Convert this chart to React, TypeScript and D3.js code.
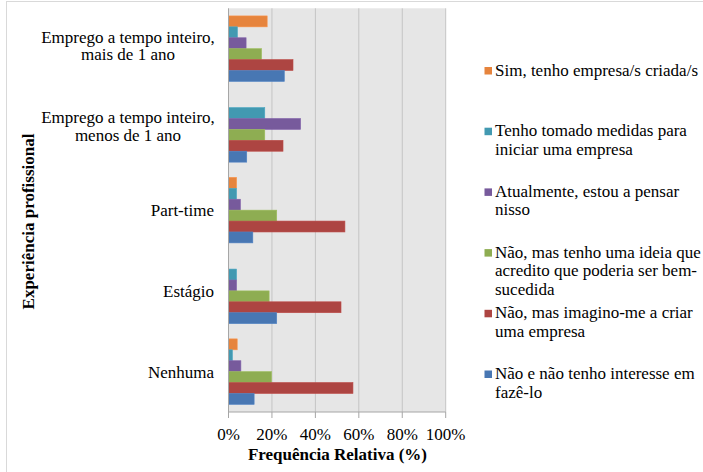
import React from "react";
import * as d3 from "d3";

const categories = [
  "Emprego a tempo inteiro, mais de 1 ano",
  "Emprego a tempo inteiro, menos de 1 ano",
  "Part-time",
  "Estágio",
  "Nenhuma",
];
const categoryLines = [
  ["Emprego a tempo inteiro,", "mais de 1 ano"],
  ["Emprego a tempo inteiro,", "menos de 1 ano"],
  ["Part-time"],
  ["Estágio"],
  ["Nenhuma"],
];

const seriesNames = [
  "Sim, tenho empresa/s criada/s",
  "Tenho tomado medidas para iniciar uma empresa",
  "Atualmente, estou a pensar nisso",
  "Não, mas tenho uma ideia que acredito que poderia ser bem-sucedida",
  "Não, mas imagino-me a criar uma empresa",
  "Não e não tenho interesse em fazê-lo",
];
const legendLines = [
  ["Sim, tenho empresa/s criada/s"],
  ["Tenho tomado medidas para", "iniciar uma empresa"],
  ["Atualmente, estou a pensar", "nisso"],
  ["Não, mas tenho uma ideia que", "acredito que poderia ser bem-", "sucedida"],
  ["Não, mas imagino-me a criar", "uma empresa"],
  ["Não e não tenho interesse em", "fazê-lo"],
];
const seriesColors = ["#E6843D", "#4299B1", "#775A9C", "#8EAD52", "#AD4542", "#4877B3"];

// values per series, in category order (percent)
const simValues = [17.8, 0, 3.7, 0, 4.0];
const medidasValues = [4.1, 16.7, 3.7, 3.7, 1.8];
const pensarValues = [8.1, 33.2, 5.5, 3.7, 5.7];
const ideiaValues = [15.2, 16.7, 22.2, 18.7, 19.8];
const imaginoValues = [29.7, 25.1, 53.6, 51.8, 57.3];
const naoValues = [25.7, 8.4, 11.2, 22.2, 11.8];
const seriesValues = [simValues, medidasValues, pensarValues, ideiaValues, imaginoValues, naoValues];

const xTicks = [0, 20, 40, 60, 80, 100];
const xTickLabels = ["0%", "20%", "40%", "60%", "80%", "100%"];

const W = 703;
const H = 472;
const FONT = "Tinos";

function T(props: any) {
  const { children, bold, ...rest } = props;
  return (
    <text
      style={{ fontFamily: FONT, fontSize: 17, fontWeight: bold ? 700 : 400 }}
      fill="#000"
      {...rest}
    >
      {children}
    </text>
  );
}

export default function App() {
  const plotLeft = 228.5;
  const plotRight = 445.7;
  const plotTop = 8.3;
  const plotBottom = 412;

  const x = d3.scaleLinear().domain([0, 100]).range([plotLeft, plotRight]);
  const y = d3.scaleBand().domain(categories).range([plotTop, plotBottom]).padding(0);
  const yInner = d3
    .scaleBand()
    .domain(seriesNames)
    .range([0, y.bandwidth()])
    .paddingInner(0)
    .paddingOuter(0.7);

  const legendY = d3.scaleLinear().domain([0, 5]).range([75.5, 379]);

  return (
    <svg
      width={W}
      height={H}
      style={{ position: "absolute", left: 0, top: 0, background: "#fff", fontFamily: FONT }}
    >
      <rect x={6.5} y={1.5} width={720} height={500} fill="#fff" stroke="#D9D9D9" strokeWidth={1} />
      <rect
        x={plotLeft}
        y={plotTop}
        width={plotRight - plotLeft}
        height={plotBottom - plotTop}
        fill="#E6E6E6"
      />
      {xTicks.slice(1).map((t) => (
        <line
          key={"g" + t}
          x1={x(t)}
          x2={x(t)}
          y1={plotTop}
          y2={plotBottom}
          stroke="#C4C4C4"
          strokeWidth={1}
        />
      ))}
      {seriesNames.map((s, si) =>
        categories.map((c, ci) => {
          const v = seriesValues[si][ci];
          if (!v) return null;
          return (
            <rect
              key={s + c}
              x={x(0)}
              y={(y(c) as number) + (yInner(s) as number)}
              width={x(v) - x(0)}
              height={yInner.bandwidth()}
              fill={seriesColors[si]}
              stroke={d3.color(seriesColors[si])!.brighter(0.25).formatHex()}
              strokeWidth={0.6}
            />
          );
        })
      )}
      <line x1={plotLeft} x2={plotLeft} y1={plotTop} y2={plotBottom} stroke="#A6A6A6" strokeWidth={1} />
      <line x1={plotLeft} x2={plotRight} y1={plotBottom} y2={plotBottom} stroke="#A6A6A6" strokeWidth={1} />
      {xTicks.map((t) => (
        <line key={"t" + t} x1={x(t)} x2={x(t)} y1={plotBottom} y2={plotBottom + 6} stroke="#A6A6A6" strokeWidth={1} />
      ))}
      {xTicks.map((t, i) => (
        <T key={"l" + t} x={x(t)} y={440} textAnchor="middle">
          {xTickLabels[i]}
        </T>
      ))}
      {categories.map((c, ci) => {
        const lines = categoryLines[ci];
        const cy = (y(c) as number) + y.bandwidth() / 2;
        if (lines.length === 1) {
          return (
            <T key={c} x={214} y={cy + 6} textAnchor="end">
              {lines[0]}
            </T>
          );
        }
        return (
          <g key={c}>
            {lines.map((l, li) => (
              <T key={li} x={128} y={cy - 6 + li * 17.5} textAnchor="middle">
                {l}
              </T>
            ))}
          </g>
        );
      })}
      <T x={337.5} y={460} textAnchor="middle" bold>
        Frequência Relativa (%)
      </T>
      <T transform="translate(33.5, 221.5) rotate(-90)" textAnchor="middle" bold>
        Experiência profissional
      </T>
      {seriesNames.map((s, si) => {
        const by = legendY(si);
        return (
          <g key={"lg" + s}>
            <rect x={484.5} y={by - 8.5} width={7.5} height={7.5} fill={seriesColors[si]} />
            {legendLines[si].map((l, li) => (
              <T key={li} x={495} y={by + li * 18.5}>
                {l}
              </T>
            ))}
          </g>
        );
      })}
    </svg>
  );
}
